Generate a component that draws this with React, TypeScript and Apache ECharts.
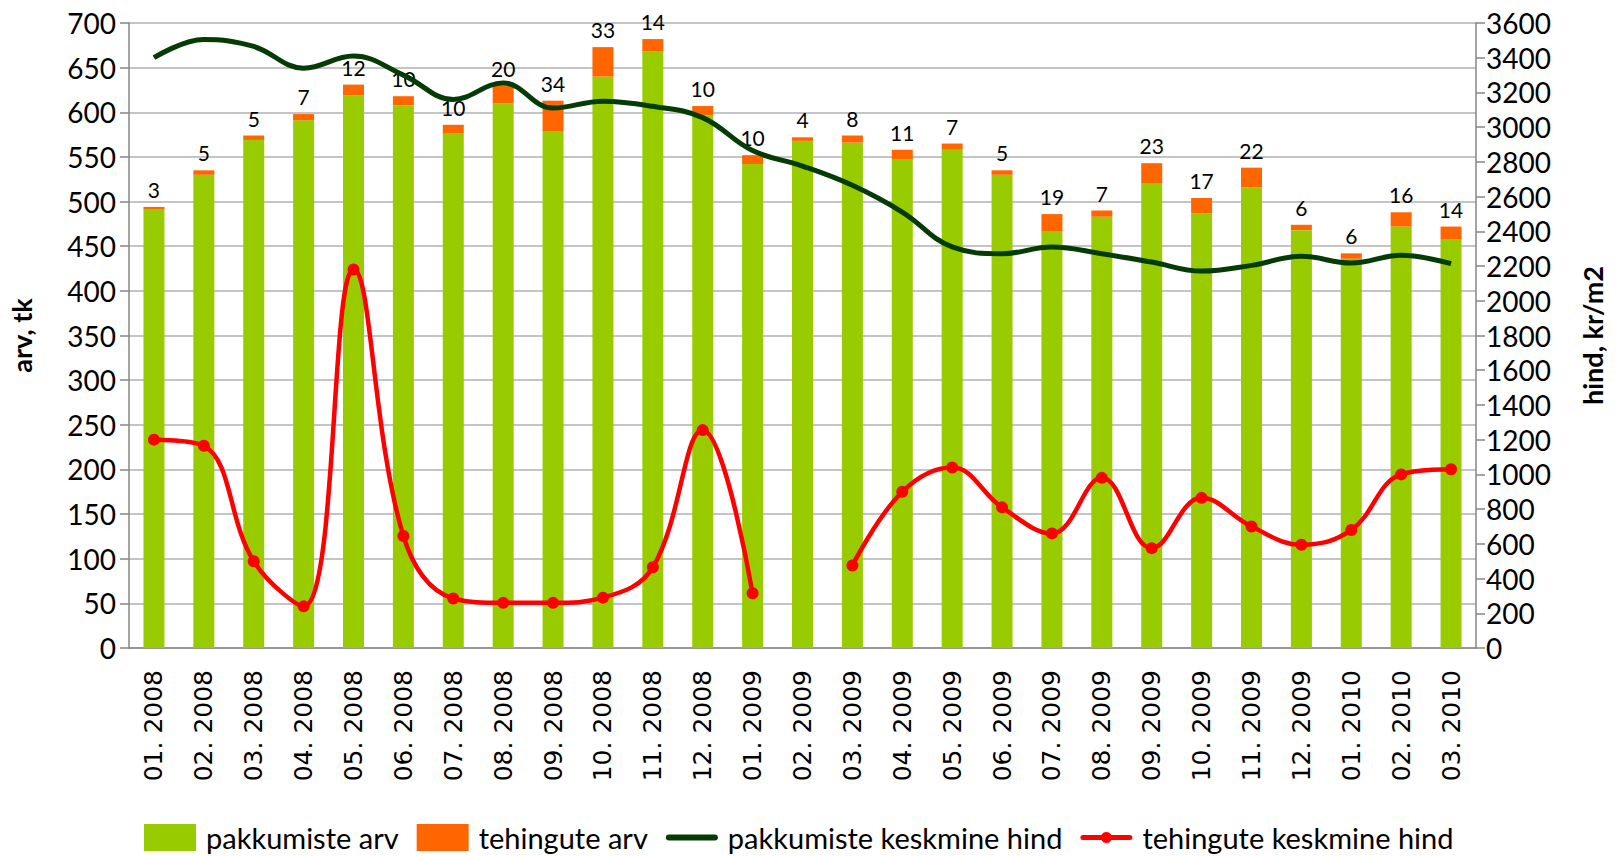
import React, { useEffect, useRef } from "react";
import * as echarts from "echarts";

const categories = [
  "01. 2008", "02. 2008", "03. 2008", "04. 2008", "05. 2008", "06. 2008",
  "07. 2008", "08. 2008", "09. 2008", "10. 2008", "11. 2008", "12. 2008",
  "01. 2009", "02. 2009", "03. 2009", "04. 2009", "05. 2009", "06. 2009",
  "07. 2009", "08. 2009", "09. 2009", "10. 2009", "11. 2009", "12. 2009",
  "01. 2010", "02. 2010", "03. 2010",
];

const pakkumisteArv = [
  491, 530, 569, 591, 619, 608, 576, 610, 579, 640, 668, 597,
  542, 568, 566, 547, 558, 530, 467, 483, 520, 487, 516, 468,
  436, 472, 458,
];

const tehinguteArv = [
  3, 5, 5, 7, 12, 10, 10, 20, 34, 33, 14, 10,
  10, 4, 8, 11, 7, 5, 19, 7, 23, 17, 22, 6,
  6, 16, 14,
];

const pakkumisteHind = [
  3400, 3505, 3465, 3340, 3410, 3300, 3160, 3255, 3110, 3150, 3120, 3055,
  2865, 2776, 2665, 2511, 2310, 2271, 2310, 2271, 2223, 2171, 2204, 2256,
  2217, 2262, 2214,
];

const tehinguteHind: (number | null)[] = [
  1200, 1165, 500, 240, 2180, 645, 285, 260, 260, 290, 465, 1255,
  315, null, 475, 900, 1040, 810, 660, 980, 575, 865, 700, 595,
  680, 1000, 1030,
];

const leftTicks = { min: 0, max: 700, interval: 50 };
const rightTicks = { min: 0, max: 3600, interval: 200 };

export default function App() {
  const ref = useRef<HTMLDivElement>(null);

  useEffect(() => {
    const chart = echarts.init(ref.current as HTMLDivElement, null, { renderer: "svg" });
    const font = "Lato, 'Open Sans', sans-serif";
    const axisGray = "#868686";
    chart.setOption({
      animation: false,
      backgroundColor: "#ffffff",
      textStyle: { fontFamily: font },
      grid: { left: 128, right: 141, top: 23, bottom: 208 },
      legend: {
        top: 818,
        left: 139,
        itemWidth: 52,
        itemHeight: 27,
        itemGap: 18,
        textStyle: { fontFamily: font, fontSize: 29, color: "#000", padding: [0, 0, 0, 5] },
        data: [
          { name: "pakkumiste arv", icon: "rect" },
          { name: "tehingute arv", icon: "rect" },
          {
            name: "pakkumiste keskmine hind",
            icon: "path://M3,0 L49,0 A3,3 0 0 1 49,6 L3,6 A3,3 0 0 1 3,0 Z",
          },
          {
            name: "tehingute keskmine hind",
            icon:
              "path://M2.5,9 L21.1,9 A5.5,5.5 0 0 1 30.9,9 L49.5,9 A2.5,2.5 0 0 1 49.5,14 L30.9,14 A5.5,5.5 0 0 1 21.1,14 L2.5,14 A2.5,2.5 0 0 1 2.5,9 Z",
          },
        ],
      },
      xAxis: {
        type: "category",
        data: categories,
        axisLine: { lineStyle: { color: axisGray, width: 1.5 } },
        axisTick: { length: 9, lineStyle: { color: axisGray, width: 1.5 } },
        axisLabel: {
          rotate: 90,
          fontFamily: "'DejaVu Sans', sans-serif",
          fontSize: 25,
          color: "#000",
          margin: 22,
        },
      },
      yAxis: [
        {
          type: "value",
          ...leftTicks,
          name: "arv, tk",
          nameLocation: "middle",
          nameRotate: 90,
          nameGap: 94,
          nameTextStyle: { fontFamily: font, fontWeight: "bold", fontSize: 27, color: "#000" },
          axisLine: { show: true, lineStyle: { color: axisGray, width: 1.5 } },
          axisTick: { show: true, length: 9, lineStyle: { color: axisGray, width: 1.5 } },
          axisLabel: { fontFamily: font, fontSize: 28, color: "#000", margin: 13 },
          splitLine: { lineStyle: { color: "#b0b0b0", width: 1.5 } },
        },
        {
          type: "value",
          ...rightTicks,
          position: "right",
          name: "hind, kr/m2",
          nameLocation: "middle",
          nameRotate: 90,
          nameGap: 103,
          nameTextStyle: { fontFamily: font, fontWeight: "bold", fontSize: 27, color: "#000" },
          axisLine: { show: true, lineStyle: { color: axisGray, width: 1.5 } },
          axisTick: { show: true, length: 9, lineStyle: { color: axisGray, width: 1.5 } },
          axisLabel: {
            fontFamily: font,
            fontSize: 28,
            color: "#000",
            margin: 10,
            formatter: (v: number) => String(v),
          },
          splitLine: { show: false },
        },
      ],
      series: [
        {
          name: "pakkumiste arv",
          type: "bar",
          stack: "arv",
          barWidth: 21,
          itemStyle: { color: "#99cc00" },
          data: pakkumisteArv,
        },
        {
          name: "tehingute arv",
          type: "bar",
          stack: "arv",
          barWidth: 21,
          itemStyle: { color: "#ff6600" },
          label: {
            show: true,
            position: "top",
            distance: 7,
            fontFamily: font,
            fontSize: 21,
            color: "#000",
          },
          data: tehinguteArv,
        },
        {
          name: "pakkumiste keskmine hind",
          type: "line",
          yAxisIndex: 1,
          smooth: 0.4,
          symbol: "none",
          lineStyle: { color: "#053b05", width: 5 },
          itemStyle: { color: "#053b05" },
          data: pakkumisteHind,
          z: 4,
        },
        {
          name: "tehingute keskmine hind",
          type: "line",
          yAxisIndex: 1,
          smooth: 0.4,
          connectNulls: false,
          symbol: "circle",
          symbolSize: 12,
          lineStyle: { color: "#ff0000", width: 4.5 },
          itemStyle: { color: "#ff0000" },
          data: tehinguteHind,
          z: 5,
        },
      ],
    });
    return () => chart.dispose();
  }, []);

  return (
    <div
      ref={ref}
      style={{ position: "fixed", left: 0, top: 0, width: 1617, height: 856 }}
    />
  );
}
